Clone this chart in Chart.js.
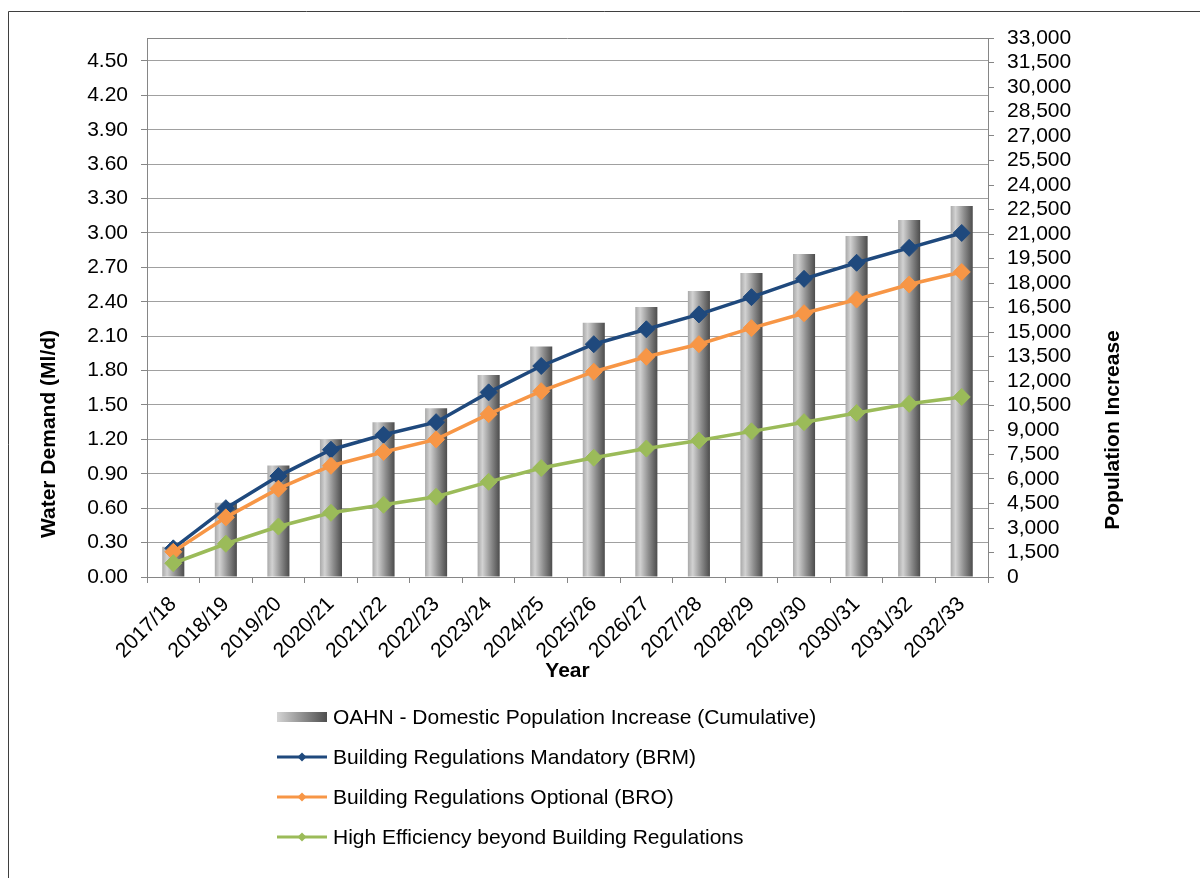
<!DOCTYPE html>
<html>
<head>
<meta charset="utf-8">
<title>Water Demand and Population Increase</title>
<script src="https://cdn.jsdelivr.net/npm/chart.js@4.4.1/dist/chart.umd.min.js"></script>
<style>
  html, body { margin: 0; padding: 0; background: #ffffff; }
  #wrap { width: 1200px; height: 878px; position: relative; }
</style>
</head>
<body>
<div id="wrap"><canvas id="chart" width="1200" height="878"></canvas></div>
<script>
// Financial years on the category axis
const years = ['2017/18', '2018/19', '2019/20', '2020/21', '2021/22', '2022/23', '2023/24', '2024/25',
               '2025/26', '2026/27', '2027/28', '2028/29', '2029/30', '2030/31', '2031/32', '2032/33'];

// Cumulative domestic population increase (right axis)
const populationIncrease = [1850, 4550, 6820, 8440, 9470, 10330, 12370, 14110,
                            15560, 16530, 17510, 18610, 19780, 20880, 21860, 22710];

// Water demand scenarios, Ml/d (left axis)
const demandBRM = [0.25, 0.60, 0.88, 1.11, 1.24, 1.35, 1.61, 1.84, 2.03, 2.16, 2.29, 2.44, 2.60, 2.74, 2.87, 3.00];
const demandBRO = [0.22, 0.52, 0.77, 0.97, 1.09, 1.20, 1.42, 1.62, 1.79, 1.92, 2.03, 2.17, 2.30, 2.42, 2.55, 2.66];
const demandHE  = [0.12, 0.29, 0.44, 0.56, 0.63, 0.70, 0.83, 0.95, 1.04, 1.12, 1.19, 1.27, 1.35, 1.43, 1.51, 1.57];

// Axis settings
const demandAxis = { min: 0, max: 4.7, step: 0.3 };
const populationAxis = { min: 0, max: 33000, step: 1500 };

const seriesLabels = [
  'OAHN - Domestic Population Increase (Cumulative)',
  'Building Regulations Mandatory (BRM)',
  'Building Regulations Optional (BRO)',
  'High Efficiency beyond Building Regulations'
];

const FONT = '"Liberation Sans", Arial, sans-serif';
const FONT_SIZE = 21;
const AXIS_GREY = '#868686';
const GRID_GREY = '#a0a0a0';
const BAR_PCT = 0.42;

Chart.defaults.font.family = FONT;
Chart.defaults.font.size = FONT_SIZE;
Chart.defaults.color = '#000000';

// Cylinder-like shading across each bar
function barGradient(ctx) {
  const chart = ctx.chart;
  const xs = chart.scales.x;
  if (!xs || !chart.chartArea || ctx.dataIndex === undefined) return '#909090';
  const cx = xs.getPixelForValue(ctx.dataIndex);
  const half = (chart.chartArea.width / years.length) * BAR_PCT / 2;
  const g = chart.ctx.createLinearGradient(cx - half, 0, cx + half, 0);
  g.addColorStop(0.00, '#a9a9a9');
  g.addColorStop(0.22, '#d2d2d2');
  g.addColorStop(0.60, '#8e8e8e');
  g.addColorStop(1.00, '#4c4c4c');
  return g;
}

// Outer frame and the top edge of the plot area
const framePlugin = {
  id: 'frame',
  beforeDraw(chart) {
    const c = chart.ctx;
    c.save();
    c.fillStyle = '#ffffff';
    c.fillRect(0, 0, chart.width, chart.height);
    c.strokeStyle = '#3f3f3f';
    c.lineWidth = 1;
    c.beginPath();
    c.moveTo(8.5, chart.height);
    c.lineTo(8.5, 11.5);
    c.lineTo(chart.width, 11.5);
    c.stroke();
    c.restore();
  },
  afterDraw(chart) {
    const a = chart.chartArea;
    const c = chart.ctx;
    c.save();
    c.strokeStyle = AXIS_GREY;
    c.lineWidth = 1;
    c.beginPath();
    c.moveTo(a.left, Math.round(a.top) + 0.5);
    c.lineTo(a.right, Math.round(a.top) + 0.5);
    c.stroke();
    c.restore();
  }
};

// Vertical axis titles, set lower than the plot centre
const axisTitlePlugin = {
  id: 'axisTitles',
  afterDraw(chart) {
    const c = chart.ctx;
    c.save();
    c.font = 'bold ' + FONT_SIZE + 'px ' + FONT;
    c.fillStyle = '#000000';
    c.textAlign = 'center';
    c.textBaseline = 'middle';
    [[49, 434, 'Water Demand (Ml/d)'], [1113, 430, 'Population Increase']].forEach(([x, y, t]) => {
      c.save();
      c.translate(x, y);
      c.rotate(-Math.PI / 2);
      c.fillText(t, 0, 0);
      c.restore();
    });
    c.restore();
  }
};

// Stacked legend below the chart
const legendPlugin = {
  id: 'stackedLegend',
  afterDraw(chart) {
    const c = chart.ctx;
    const x0 = 277, x1 = 327, textX = 333;
    const rows = [717, 757, 797, 837];
    c.save();
    c.font = FONT_SIZE + 'px ' + FONT;
    c.textBaseline = 'middle';
    c.textAlign = 'left';
    chart.data.datasets.forEach((ds, i) => {
      const y = rows[i];
      if (ds.type === 'bar') {
        const g = c.createLinearGradient(x0, 0, x1, 0);
        g.addColorStop(0, '#d4d4d4');
        g.addColorStop(1, '#4e4e4e');
        c.fillStyle = g;
        c.fillRect(x0, y - 5, x1 - x0, 10);
      } else {
        c.strokeStyle = ds.borderColor;
        c.lineWidth = 3;
        c.beginPath();
        c.moveTo(x0, y);
        c.lineTo(x1, y);
        c.stroke();
        c.fillStyle = ds.borderColor;
        c.beginPath();
        const cx = (x0 + x1) / 2, r = 4.5;
        c.moveTo(cx, y - r); c.lineTo(cx + r, y); c.lineTo(cx, y + r); c.lineTo(cx - r, y);
        c.closePath();
        c.fill();
      }
      c.fillStyle = '#000000';
      c.fillText(ds.label, textX, y + 1);
    });
    c.restore();
  }
};

function lineSeries(label, values, color, order) {
  return {
    type: 'line',
    label: label,
    data: values,
    yAxisID: 'y',
    borderColor: color,
    backgroundColor: color,
    borderWidth: 3.5,
    pointStyle: 'rectRot',
    pointRadius: 8.5,
    pointBorderWidth: 1,
    pointBackgroundColor: color,
    pointBorderColor: color,
    tension: 0,
    order: order
  };
}

new Chart(document.getElementById('chart'), {
  data: {
    labels: years,
    datasets: [
      {
        type: 'bar',
        label: seriesLabels[0],
        data: populationIncrease,
        yAxisID: 'y1',
        backgroundColor: barGradient,
        borderWidth: 0,
        barPercentage: BAR_PCT,
        categoryPercentage: 1,
        order: 3
      },
      lineSeries(seriesLabels[1], demandBRM, '#1f497d', 2),
      lineSeries(seriesLabels[2], demandBRO, '#f79646', 1),
      lineSeries(seriesLabels[3], demandHE, '#9bbb59', 0)
    ]
  },
  options: {
    responsive: false,
    animation: false,
    devicePixelRatio: 1,
    layout: { padding: { top: 38, bottom: 192, left: 0, right: 0 } },
    plugins: {
      legend: { display: false },
      tooltip: { enabled: false }
    },
    scales: {
      x: {
        type: 'category',
        offset: true,
        grid: { offset: true, drawOnChartArea: false, tickLength: 6, color: AXIS_GREY },
        border: { display: true, color: AXIS_GREY },
        ticks: { minRotation: 45, maxRotation: 45, padding: 9, autoSkip: false, color: '#000' },
        title: { display: true, text: 'Year', font: { weight: 'bold', size: FONT_SIZE }, padding: { top: 0, bottom: 2 }, color: '#000' },
        afterFit(scale) { scale.height = 109; }
      },
      y: {
        type: 'linear',
        position: 'left',
        min: demandAxis.min,
        max: demandAxis.max,
        grid: { color: GRID_GREY, tickLength: 6, tickColor: AXIS_GREY },
        border: { display: true, color: AXIS_GREY },
        ticks: {
          stepSize: demandAxis.step,
          includeBounds: false,
          autoSkip: false,
          padding: 13,
          color: '#000',
          callback: v => v.toFixed(2)
        },
        afterFit(scale) { scale.width = 147; }
      },
      y1: {
        type: 'linear',
        position: 'right',
        min: populationAxis.min,
        max: populationAxis.max,
        grid: { drawOnChartArea: false, tickLength: 6, color: AXIS_GREY },
        border: { display: true, color: AXIS_GREY },
        ticks: {
          stepSize: populationAxis.step,
          autoSkip: false,
          padding: 13,
          color: '#000',
          callback: v => v.toLocaleString('en-US')
        },
        afterFit(scale) { scale.width = 212; }
      }
    }
  },
  plugins: [framePlugin, axisTitlePlugin, legendPlugin]
});
</script>
</body>
</html>
